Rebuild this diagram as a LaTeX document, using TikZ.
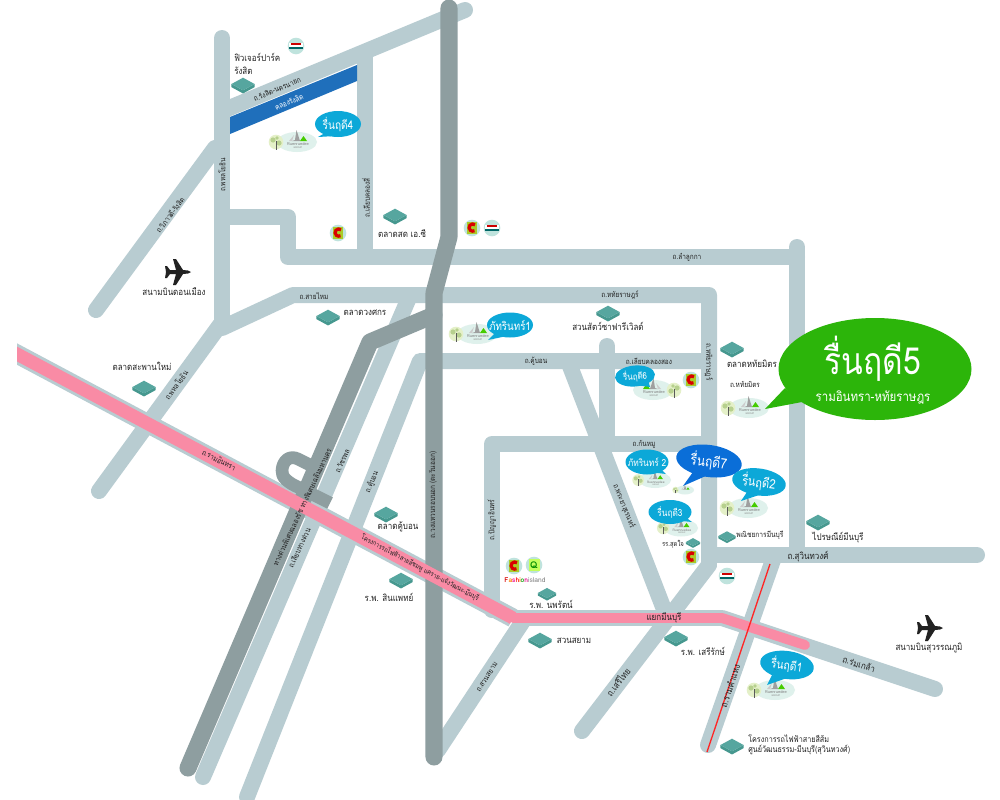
\documentclass[tikz,border=0pt]{standalone}
\usepackage{graphicx}
\usepackage{fontspec}
\setmainfont[Script=Thai]{Loma}
\definecolor{roadc}{HTML}{B8CCD1}
\definecolor{darkc}{HTML}{8E9EA0}
\definecolor{pinkc}{HTML}{F98BA5}
\definecolor{bluec}{HTML}{1F6FBB}
\definecolor{tealc}{HTML}{56A69F}
\definecolor{tealdk}{HTML}{46988F}
\definecolor{greenc}{HTML}{2CB50A}
\definecolor{cyanc}{HTML}{0CA8D8}
\definecolor{deepc}{HTML}{0A6ED8}
\definecolor{palec}{HTML}{BFE3DD}
\definecolor{logoc}{HTML}{DFF1EC}
\definecolor{inkc}{HTML}{222222}
\definecolor{treec}{HTML}{E4F0C8}
\definecolor{treed}{HTML}{B7D08E}
\newcounter{tn}
\newcommand\T[3][]{\stepcounter{tn}\node[rdl,#1] (t\arabic{tn}) at (#2) {\scalebox{.85}[1]{#3}};}
\newcommand\LT[3][]{\stepcounter{tn}\node[lml,#1] (t\arabic{tn}) at (#2) {\scalebox{.86}[1]{#3}};}
% landmark block
\newcommand\lm[3]{\begin{scope}[shift={(#1,#2)},scale=#3*1.05]
 \fill[tealdk] (-11,0) -- (0,6) -- (11,0) -- (11,3) -- (0,9) -- (-11,3) -- cycle;
 \fill[tealc] (-11,0) -- (0,-6) -- (11,0) -- (0,6) -- cycle;
\end{scope}}
% badges
\newcommand\bigc[2]{\begin{scope}[shift={(#1,#2)}]
 \fill[palec] (0,0) circle[radius=8.3];
 \fill[yellow!70!green!90!black] (-5,-6) rectangle (5,6);
 \draw[red!85!black,line width=2.4pt] (3,-3.2) arc[start angle=-50,end angle=-300,radius=3.6];
\end{scope}}
\newcommand\tesco[2]{\begin{scope}[shift={(#1,#2)}]
 \fill[palec] (0,0) circle[radius=8.3];
 \fill[white] (-7,-3) rectangle (7,3);
 \fill[red!80!black] (-5,-3) rectangle (5,-1);
 \fill[teal!80!black] (-7,0.5) rectangle (7,3);
\end{scope}}
% group logo: centre, scale, flip
\newcommand\logo[4]{\begin{scope}[shift={(#1,#2)},scale=#3]
 \begin{scope}[xscale=#4]
 \fill[logoc] (0,0) ellipse[x radius=20,y radius=10];
 \fill[gray!75] (-5,-1) -- (-2,-2) -- (-0.5,-12) -- (3,-1) -- cycle;
 \fill[gray!40] (-8,-1) -- (-5,-1) -- (-3,-7) -- cycle;
 \fill[green!55!lime!80!black] (3,-1) -- (6.5,-6) -- (10,-1) -- cycle;
 \fill[treec] (-21,0) circle[radius=7.3];
 \fill[treed] (-24,-2) circle[radius=2.6];
 \fill[treed] (-18,1) circle[radius=2.6];
 \fill[treed] (-20,-4) circle[radius=1.8];
 \draw[gray!70!black,line width=.7pt] (-21,7.5) -- (-21,-1);
 \end{scope}
 \ifdim#3pt>0.5pt
 \node[logot,scale=#3] at (1,2.5) {Ruenruedee};
 \node[logot,scale=#3*0.6] at (1,6) {GROUP};
 \fi
\end{scope}}
% speech bubble: centre, rx, ry, rot, colour, base1, tip, base2, font size, text
\newcommand\bubtext[3]{\stepcounter{tn}\node[text=white,rotate=#2,font=\bubfont,inner sep=0pt] (t\arabic{tn}) at (#1) {\scalebox{.85}[1]{#3}};}
\newcommand\bub[9]{\fill[#5] (#6) -- (#7) -- (#8) -- cycle;
 \fill[#5,rotate around={#4:(#1)}] (#1) ellipse[x radius=#2,y radius=#3];
 \def\bubfont{\fontsize{#9}{#9}\selectfont}\bubtext{#1}{#4}}
\newcommand\plane[2]{\fill[inkc,shift={(#1,#2)}] (13,0) -- (10,-1.5) -- (5,-2) -- (-2,-13) -- (-5,-13) -- (-2,-2) -- (-8,-2) -- (-11,-6) -- (-13,-6) -- (-12,0) -- (-13,6) -- (-11,6) -- (-8,2) -- (-2,2) -- (-5,13) -- (-2,13) -- (5,2) -- (10,1.5) -- cycle;}
\tikzset{
 road/.style={draw=roadc,line width=12pt,line cap=round,line join=round},
 droad/.style={draw=darkc,line width=12.8pt,line cap=round,line join=round},
 rdl/.style={text=inkc,font=\fontsize{5.7}{6}\selectfont,inner sep=0pt},
 lml/.style={text=inkc,font=\fontsize{7}{8}\selectfont,inner sep=0pt},
 logot/.style={text=gray,font=\fontsize{3}{3}\selectfont,inner sep=0pt},
}
\begin{document}
\begin{tikzpicture}[x=0.75pt,y=-0.75pt]
\clip (0,0) rectangle (1000,800);
\fill[white] (0,0) rectangle (1000,800);
% light roads
\draw[road] (222,38) -- (222,325);
\draw[road] (222,111) -- (465,10);
\draw[road,line cap=butt] (365,52) -- (365,257);
\draw[road] (215,148) -- (96,310);
\draw[road] (222,217) -- (288,217) -- (288,257) -- (797,257);
\draw[road] (797,247) -- (797,555);
\draw[road] (222,328) -- (293,295) -- (709,295) -- (709,562);
\draw[road] (220,325) -- (99,491);
\draw[road] (408,300) -- (203,777);
\draw[road] (247,797) -- (420,361) -- (709,361);
\draw[road] (607,346) -- (607,444);
\draw[road] (709,444) -- (492,444) -- (492,610);
\draw[road] (568,361) -- (665,612);
\draw[road] (709,565) -- (582,731);
\draw[road] (709,555) -- (977,555);
\draw[road] (773,560) -- (708,745);
\draw[road] (438,750) -- (525,618);
% klong
\fill[bluec] (230,117) -- (357,65) -- (357,81) -- (230,134) -- cycle;
% Ram Inthra casing
\begin{scope}
\clip (17,0) rectangle (1000,800);
\draw[draw=roadc,line width=14.2pt] (0,345) -- (513,618);
\end{scope}
\draw[road,line cap=butt] (513,618) -- (722,618);
\draw[road] (722,618) -- (935,689);
% dark roads
\draw[droad] (449,8) -- (449,237) -- (434,293) -- (434,757);
\draw[droad] (434,315) -- (370,342) -- (188,768);
\draw[draw=darkc,line width=9.5pt,line join=round] (330,503) -- (300,488) .. controls (288,483) and (281,477) .. (282,470) .. controls (283,460) and (290,455) .. (298,459) -- (318,469);
% pink rail
\begin{scope}
\clip (17,0) rectangle (1000,800);
\draw[draw=pinkc,line width=9.8pt] (0,345) -- (513,618);
\end{scope}
\draw[draw=pinkc,line width=7.4pt,line cap=round,line join=round] (513,618) -- (722,618) -- (805,645);
\draw[draw=red!80!pink,line width=1pt] (770,564) -- (707,752);
% landmarks
\lm{243}{84}{1}\lm{395}{215}{1}\lm{328}{316}{1}\lm{144}{387}{1}
\lm{608}{312}{1}\lm{732}{348}{1}\lm{818}{521}{1}\lm{727}{536}{.75}
\lm{693}{542}{.62}\lm{386}{513}{1}\lm{401}{579}{1}\lm{547}{593}{.8}
\lm{540}{639}{1}\lm{676}{637}{1}\lm{732}{745}{1}
% badges
\tesco{296}{46}\bigc{338}{233}\bigc{472}{228}\tesco{492}{228}
\bigc{691}{380}\bigc{691}{557}\bigc{514}{566}\tesco{727}{576}
\fill[palec] (534,565) circle[radius=8.3];
\fill[white!60!green!60!yellow] (528.5,559) rectangle (539.5,571);
\node[text=green!55!black,font=\bfseries\fontsize{7}{7}\selectfont,inner sep=0pt] (qmark) at (534,565) {Q};
\node[inner sep=0pt,font=\bfseries\fontsize{5}{6}\selectfont] (fashion) at (525,580) {\textcolor{red!85!black}{F}\textcolor{orange}{a}\textcolor{magenta}{s}\textcolor{red}{h}\textcolor{orange}{i}\textcolor{green!60!black}{o}\textcolor{magenta}{n}\textcolor{gray}{\mdseries island}};
% logos
\logo{297}{142}{1}{1}
\logo{477}{334}{1}{1}
\logo{749}{408}{1}{1}
\logo{653}{390}{1}{-1}
\logo{655}{480}{.8}{1}
\logo{685}{490}{.45}{1}
\logo{748}{508}{1}{1}
\logo{681}{528}{.85}{1}
\logo{775}{690}{1}{1}
% planes
\plane{178}{272}\plane{930}{628}
% bubbles
\bub{338,124}{23}{13}{0}{cyanc}{325,133}{318,137}{335,136}{8.9}{รื่นฤดี4}
\bub{510,325}{23}{12.5}{0}{cyanc}{496,332}{488,340}{507,336}{8.6}{ภัทรินทร์1}
\fill[greenc] (785,388) -- (765,409) -- (802,402) -- cycle;
\fill[greenc] (875,369) ellipse[x radius=96.5,y radius=51];
\bub{635,376}{20}{10.5}{5}{cyanc}{636,385}{650,387}{648,380}{7}{รื่นฤดี6}
\bub{647,462}{21.5}{12.5}{0}{cyanc}{650,472}{666,474}{660,468}{7.3}{ภัทรินทร์ 2}
\bub{709,461}{33}{16}{-8}{deepc}{693,472}{683,486}{708,475}{10.7}{รื่นฤดี7}
\bub{759,482}{27}{13.5}{-8}{cyanc}{747,492}{741,501}{762,494}{9.8}{รื่นฤดี2}
\bub{670,512}{21.5}{12}{0}{cyanc}{672,520}{692,522}{684,516}{7.3}{รื่นฤดี3}
\bub{787,665}{27}{14}{-8}{cyanc}{772,675}{767,685}{787,678}{9.2}{รื่นฤดี1}
\node[text=white,font=\fontsize{28}{28}\selectfont,inner sep=0pt] (r5a) at (873,359) {\scalebox{.85}[1]{รื่นฤดี5}};
\node[text=white,font=\fontsize{10}{10}\selectfont,inner sep=0pt] (r5b) at (873,397) {\scalebox{.86}[1]{รามอินทรา-หทัยราษฎร}};
% road labels
\T[rotate=23]{277,89}{ถ.รังสิต-นครนายก}
\T[rotate=23,text=white]{289,102}{คลองรังสิต}
\T[rotate=90]{222,175}{ถ.พหลโยธิน}
\T[rotate=53]{170,215}{ถ.วิภาวดี-รังสิต}
\T[rotate=90]{366,198}{ถ.เลียบคลองสี่}
\T{687,257}{ถ.ลำลูกกา}
\T{314,296}{ถ.สายไหม}
\T[rotate=54]{176,385}{ถ.พหลโยธิน}
\T{620,295}{ถ.หทัยราษฎร์}
\T{536,361}{ถ.คู้บอน}
\T{649,361}{ถ.เลียบคลองสอง}
\T[rotate=-90]{709,362}{ถ.หทัยราษฎร์}
\T{745,384}{ถ.หทัยมิตร}
\T{644,444}{ถ.กันหมู}
\T[rotate=-68]{624,506}{ถ.พระยาสุเรนทร์}
\T[rotate=-28]{219,460}{ถ.รามอินทรา}
\T[rotate=-28,font=\fontsize{5.1}{6}\selectfont]{420,568}{โครงการรถไฟฟ้าสายสีชมพู แคราย-แจ้งวัฒนะ-มีนบุรี}
\T[rotate=65]{302,507}{ทางด่วนพิเศษฉลองรัช ทางพิเศษเฉลิมมหานคร}
\T[rotate=65]{299,548}{ถ.เลียบทางด่วน}
\T[rotate=66]{342,461}{ถ.วัชรพล}
\T[rotate=67]{372,482}{ถ.คู้บอน}
\T[rotate=90]{433,495}{ถ.วงแหวนรอบนอก (ตะวันออก)}
\T[rotate=90]{492,520}{ถ.ปัญญาอินทร์}
\T[rotate=57]{487,677}{ถ.สวนสยาม}
\T[rotate=53,font=\fontsize{7}{7}\selectfont]{618,682}{ถ.เสรีไทย}
\T[rotate=72,font=\fontsize{7}{7}\selectfont]{730,686}{ถ.รามคำแหง}
% landmark labels
\LT[anchor=west]{234,57}{ฟิวเจอร์ปาร์ค}
\LT[anchor=west]{234,71}{รังสิต}
\LT{402,234}{ตลาดสด เอ.ซี}
\LT{174,292}{สนามบินดอนเมือง}
\LT{365,313}{ตลาดวงศกร}
\LT{142,366}{ตลาดสะพานใหม่}
\LT{608,326}{สวนสัตว์ซาฟารีเวิลด์}
\LT{752,364}{ตลาดหทัยมิตร}
\LT[font=\fontsize{5.8}{6}\selectfont]{760,535}{พณิชยการมีนบุรี}
\LT{838,538}{ไปรษณีย์มีนบุรี}
\LT{808,557}{ถ.สุวินทวงศ์}
\LT[font=\fontsize{5.2}{5}\selectfont]{673,544}{รร.สุดใจ}
\LT{398,527}{ตลาดคู้บอน}
\LT{389,597}{ร.พ. สินแพทย์}
\LT{551,604}{ร.พ. นพรัตน์}
\LT{664,618}{แยกมีนบุรี}
\LT{574,641}{สวนสยาม}
\LT{703,651}{ร.พ. เสรีรักษ์}
\LT[rotate=-18]{859,664}{ถ.ร่มเกล้า}
\LT{929,648}{สนามบินสุวรรณภูมิ}
\LT[anchor=west,font=\fontsize{6.3}{7}\selectfont]{748,739}{โครงการรถไฟฟ้าสายสีส้ม}
\LT[anchor=west,font=\fontsize{6.3}{7}\selectfont]{748,750}{ศูนย์วัฒนธรรม-มีนบุรี(สุวินทวงศ์)}
\end{tikzpicture}
\end{document}
